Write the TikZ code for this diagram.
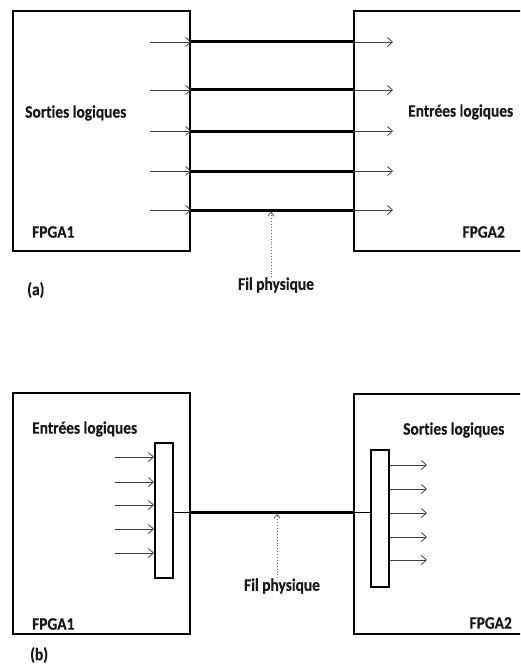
\documentclass[tikz,border=0pt]{standalone}
\usepackage{fontspec}
\setmainfont[Ligatures=NoCommon]{Carlito}
\newfontfamily\labelfont[Ligatures=NoCommon,FakeStretch=0.88,FakeBold=0.4]{Carlito}
\usetikzlibrary{arrows.meta}
\begin{document}
\begin{tikzpicture}[x=1pt,y=-1pt,
  chip/.style={draw, line width=2.2pt, anchor=north west, inner sep=0pt},
  mux/.style={draw, line width=2.2pt, anchor=north west, inner sep=0pt, minimum width=18pt},
  lbl/.style={font=\labelfont\bfseries\fontsize{17.5}{18}\selectfont, inner sep=0pt, text=black!90},
  sig/.style={-{Straight Barb[length=5pt,width=9pt]}, line width=0.8pt, draw=black!75},
  wire/.style={line width=3pt},
  tap/.style={line width=0.8pt},
  hint/.style={-{Straight Barb[length=4pt,width=6pt]}, dotted, line width=0.9pt, draw=black!60}]
\path[use as bounding box] (0,0) rectangle (520,666);
\clip (0,0) rectangle (520,666);

% ---------- (a): one physical wire per logical signal ----------
\node[chip, minimum width=177pt, minimum height=240pt] (fa1) at (12,10) {};
\node[chip, minimum width=200pt, minimum height=240pt] (fa2) at (353,10) {};
\node[lbl, anchor=west] (outA) at (25,113) {Sorties logiques};
\node[lbl, anchor=west] (inA) at (408,112) {Entrées logiques};
\node[lbl, anchor=west] (nA1) at (32,232) {FPGA1};
\node[lbl, anchor=east] (nA2) at (505,232) {FPGA2};
\node[lbl, anchor=west] (capA) at (27,290) {(a)};
\node[lbl, anchor=center] (wireA) at (276,285) {Fil physique};

\foreach \yy [count=\i] in {42,90,131,171,210} {
  \coordinate (as\i) at (150,\yy);
  \coordinate (al\i) at (fa1.east |- as\i);
  \coordinate (ar\i) at (fa2.west |- as\i);
  \coordinate (ae\i) at (393,\yy);
  \draw[sig] (as\i) -- (al\i);
  \draw[wire] (al\i) -- (ar\i);
  \draw[sig] (ar\i) -- (ae\i);
}
\draw[hint] (wireA.north -| 271,0) -- (271,211.5);

% ---------- (b): signals multiplexed onto a single wire ----------
\node[chip, minimum width=177pt, minimum height=241pt] (fb1) at (12,392) {};
\node[chip, minimum width=200pt, minimum height=240pt] (fb2) at (353,393) {};
\node[mux, minimum height=135pt] (mx) at (154,442) {};
\node[mux, minimum height=137pt] (dmx) at (370,449) {};
\node[lbl, anchor=west] (inB) at (32,429) {Entrées logiques};
\node[lbl, anchor=west] (outB) at (403,430) {Sorties logiques};
\node[lbl, anchor=west] (nB1) at (32,624) {FPGA1};
\node[lbl, anchor=east] (nB2) at (512,623) {FPGA2};
\node[lbl, anchor=west] (capB) at (30,655) {(b)};
\node[lbl, anchor=center] (wireB) at (282,586) {Fil physique};

\foreach \yy [count=\i] in {457,482,505,529,553} {
  \coordinate (bs\i) at (115,\yy);
  \draw[sig] (bs\i) -- (mx.west |- bs\i);
}
\foreach \yy [count=\i] in {465,489,513,537,560} {
  \coordinate (be\i) at (427,\yy);
  \draw[sig] (dmx.east |- be\i) -- (be\i);
}
\coordinate (bl) at (fb1.east |- 0,512);
\coordinate (br) at (fb2.west |- 0,512);
\draw[tap] (mx.east |- bl) -- (bl);
\draw[wire] (bl) -- (br);
\draw[tap] (br) -- (dmx.west |- br);
\draw[hint] (wireB.north -| 277,0) -- (277,513.5);
\end{tikzpicture}
\end{document}
